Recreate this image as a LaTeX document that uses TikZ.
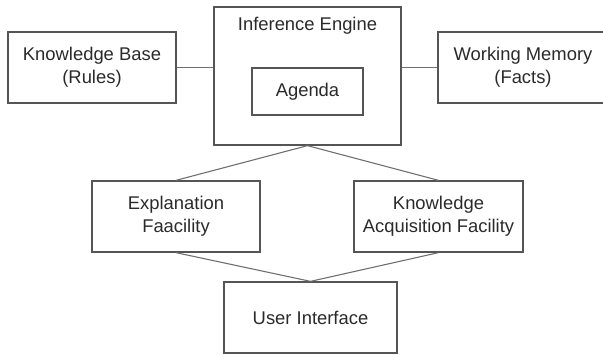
\documentclass[tikz,border=0pt]{standalone}
\usepackage{fontspec}
\setmainfont{Liberation Sans}
\definecolor{boxc}{HTML}{555555}
\definecolor{linec}{HTML}{707070}
\definecolor{txtc}{HTML}{2A2A2A}
\begin{document}
\begin{tikzpicture}[x=1pt,y=-1pt,
  box/.style={draw=boxc, line width=1.3pt, rectangle, inner sep=0pt, align=center,
    text=txtc, font=\fontsize{18.4}{23}\selectfont},
  conn/.style={draw=linec, line width=1.1pt},
  lbl/.style={text=txtc, inner sep=0pt, font=\fontsize{18.4}{23}\selectfont}]
\useasboundingbox (0,0) rectangle (603,355);
\begin{scope}
\clip (0,0) rectangle (603,355);
\node[box, minimum width=168pt, minimum height=71pt] (kb) at (92,67.5) {Knowledge Base\\(Rules)};
\node[box, minimum width=187pt, minimum height=138pt] (ie) at (307.5,76) {};
\node[lbl] (iet) at (307.5,26) {Inference Engine};
\node[box, minimum width=111pt, minimum height=47pt] (ag) at (307.5,91.5) {Agenda};
\node[box, minimum width=170pt, minimum height=71pt] (wm) at (523,67.5) {Working Memory\\(Facts)};
\node[box, minimum width=168pt, minimum height=71pt] (ex) at (176,216.5) {Explanation\\Faacility};
\node[box, minimum width=169pt, minimum height=71pt] (ka) at (438.5,216.5) {Knowledge\\Acquisition Facility};
\node[box, minimum width=173pt, minimum height=71pt] (ui) at (310.5,317.5) {User Interface};
\draw[conn] (kb.east) -- (kb.east -| ie.west);
\draw[conn] (wm.west -| ie.east) -- (wm.west);
\draw[conn] (ie.south) -- (ex.north);
\draw[conn] (ie.south) -- (ka.north);
\draw[conn] (ex.south) -- (ui.north);
\draw[conn] (ka.south) -- (ui.north);
\end{scope}
\end{tikzpicture}
\end{document}
